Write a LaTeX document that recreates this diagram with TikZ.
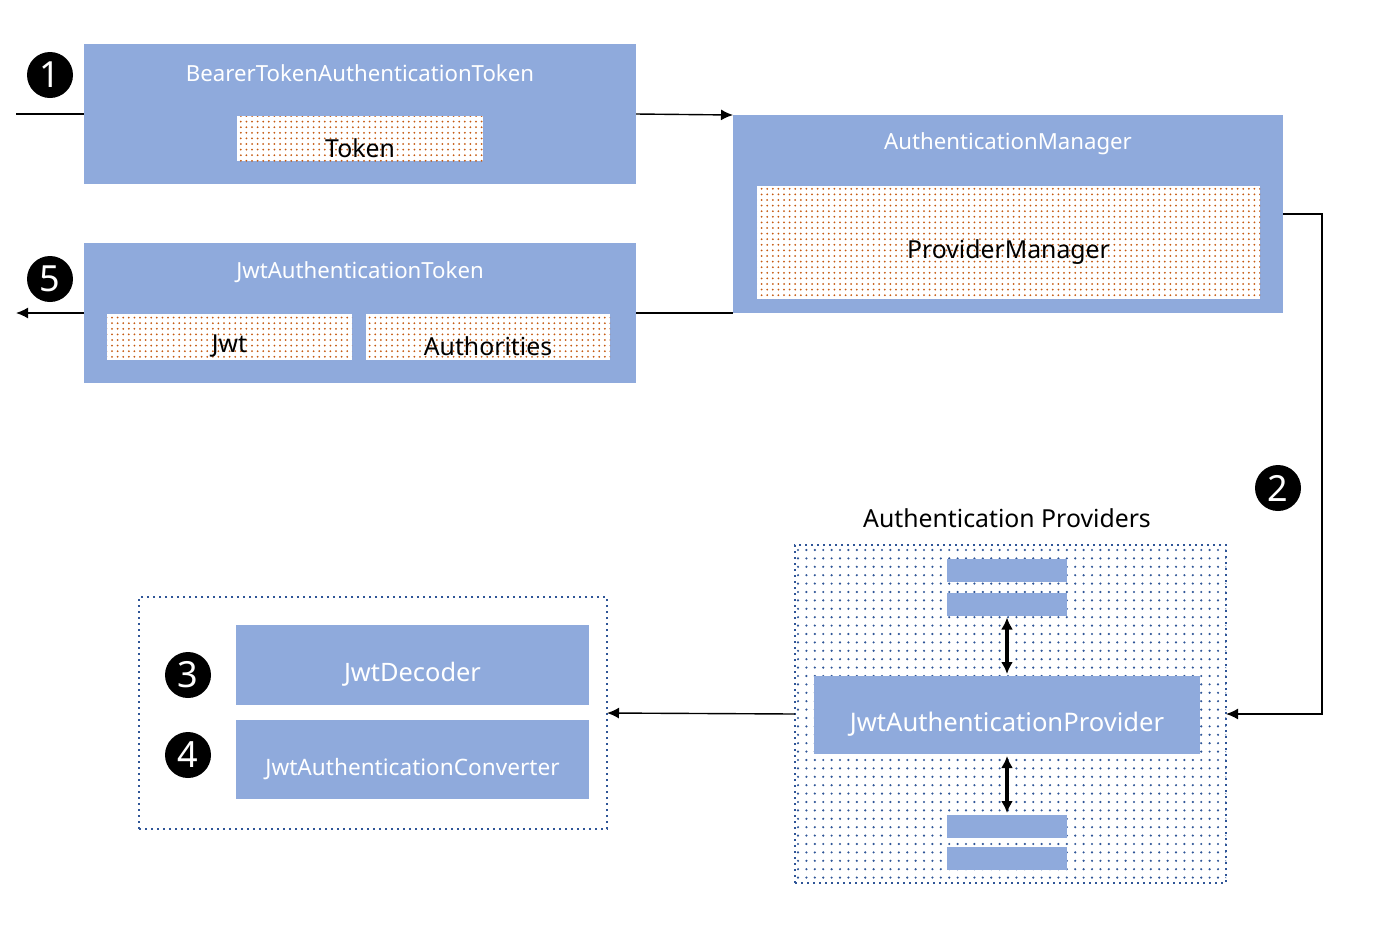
\documentclass[tikz,border=0pt]{standalone}
\usepackage{fontspec}
\setmainfont{Noto Sans}
\usetikzlibrary{positioning,calc,arrows.meta,patterns.meta}
\definecolor{boxblue}{HTML}{8FAADC}
\definecolor{dotorange}{HTML}{C55A11}
\definecolor{dotblue}{HTML}{2F5597}
\tikzset{bbox/.style={draw=none, fill=boxblue, inner sep=0, outer sep=0}}
\tikzset{obox/.style={inner sep=0, outer sep=0, preaction={fill=white}, pattern={Dots[distance=2.8pt, radius=0.5pt]}, pattern color=dotorange}}
\tikzset{pbox/.style={inner sep=0, outer sep=0, draw=dotblue, line width=1pt, dotted}}
\tikzset{ttl/.style={text=white, font=\fontsize{11.1}{13}\selectfont}}
\tikzset{lbl/.style={text=black, font=\fontsize{12.4}{14}\selectfont}}
\tikzset{num/.style={circle, fill=black, text=white, inner sep=0, minimum size=23pt, font=\fontsize{18}{18}\selectfont}}
\tikzset{arr/.style={draw, line width=0.7pt, -{Latex[length=6pt,width=5.5pt]}}}
\tikzset{arr2/.style={draw, line width=1.6pt, {Latex[length=6pt,width=6pt]}-{Latex[length=6pt,width=6pt]}, shorten <=1pt, shorten >=1pt}}
\begin{document}
\begin{tikzpicture}[x=0.5pt, y=-0.5pt]
	\useasboundingbox (0,0) rectangle (1376,928);
	% tokens
	\node[bbox, minimum width=276pt, minimum height=70pt] (BT) at (360,114) {};
	\node[ttl] (BTt) at (360,73) {BearerTokenAuthenticationToken};
	\node[obox, minimum width=123pt, minimum height=22.5pt] (TK) at (360,138.5) {};
	\node[lbl] (TKt) at (360,148) {Token};
	\node[bbox, minimum width=276pt, minimum height=70pt] (JT) at (360,313) {};
	\node[ttl] (JTt) at (360,272) {JwtAuthenticationToken};
	\node[obox, minimum width=122.5pt, minimum height=23pt] (JW) at (229.5,337) {};
	\node[lbl] (JWt) at (229.5,346) {Jwt};
	\node[obox, minimum width=122pt, minimum height=23pt] (AU) at (488,337) {};
	\node[lbl] (AUt) at (488,346) {Authorities};
	% manager
	\node[bbox, minimum width=275pt, minimum height=99pt] (AM) at (1008,214) {};
	\node[ttl] (AMt) at (1008,144) {AuthenticationManager};
	\node[obox, minimum width=251.5pt, minimum height=56.5pt] (PM) at (1008.5,242.5) {};
	\node[lbl] (PMt) at (1008.5,252) {ProviderManager};
	% providers
	\node[lbl] (APt) at (1007,518) {Authentication Providers};
	\node[pbox, minimum width=215.5pt, minimum height=169pt, preaction={fill=white}, postaction={pattern={Dots[distance=4.2pt, radius=0.6pt]}, pattern color=dotblue}] (AP) at (1010.5,714) {};
	\foreach \yy/\nm in {570.5/B1, 604/B2, 826.5/B3, 858.5/B4}
		\node[bbox, minimum width=60pt, minimum height=11.5pt] (\nm) at (1007,\yy) {};
	\node[bbox, minimum width=193pt, minimum height=39pt] (JP) at (1007,715) {};
	\node[ttl, font=\fontsize{12.8}{14}\selectfont] (JPt) at (1007,724) {JwtAuthenticationProvider};
	\draw[arr2] (B2.south) -- (JP.north);
	\draw[arr2] (JP.south) -- (B3.north);
	% decoder / converter
	\node[pbox, minimum width=234pt, minimum height=116pt, fill=white] (LB) at (373,713) {};
	\node[bbox, minimum width=176.5pt, minimum height=40pt] (JD) at (412.5,665) {};
	\node[ttl, font=\fontsize{12.7}{14}\selectfont] (JDt) at (412.5,674) {JwtDecoder};
	\node[bbox, minimum width=176.5pt, minimum height=39.5pt] (JC) at (412.5,759.5) {};
	\node[ttl, font=\fontsize{11.3}{13}\selectfont] (JCt) at (412.5,769) {JwtAuthenticationConverter};
	% steps
	\node[num] (n1) at (50,75) {1};
	\node[num] (n2) at (1278,488) {2};
	\node[num] (n3) at (188,675) {3};
	\node[num] (n4) at (188,755) {4};
	\node[num] (n5) at (50,279) {5};
	% flow
	\coordinate (in) at (16,114);
	\coordinate (out) at (16,313);
	\coordinate (c2) at (1322,214);
	\draw[line width=0.7pt] (in) -- (BT.west);
	\draw[arr] (BT.east) -- (AM.north west);
	\draw[arr] (AM.east) -- (c2) |- (AP.east);
	\draw[arr] (AP.west) -- (LB.east);
	\draw[line width=0.7pt] (AM.south west) -- (JT.east);
	\draw[arr] (JT.west) -- (out);
\end{tikzpicture}
\end{document}
